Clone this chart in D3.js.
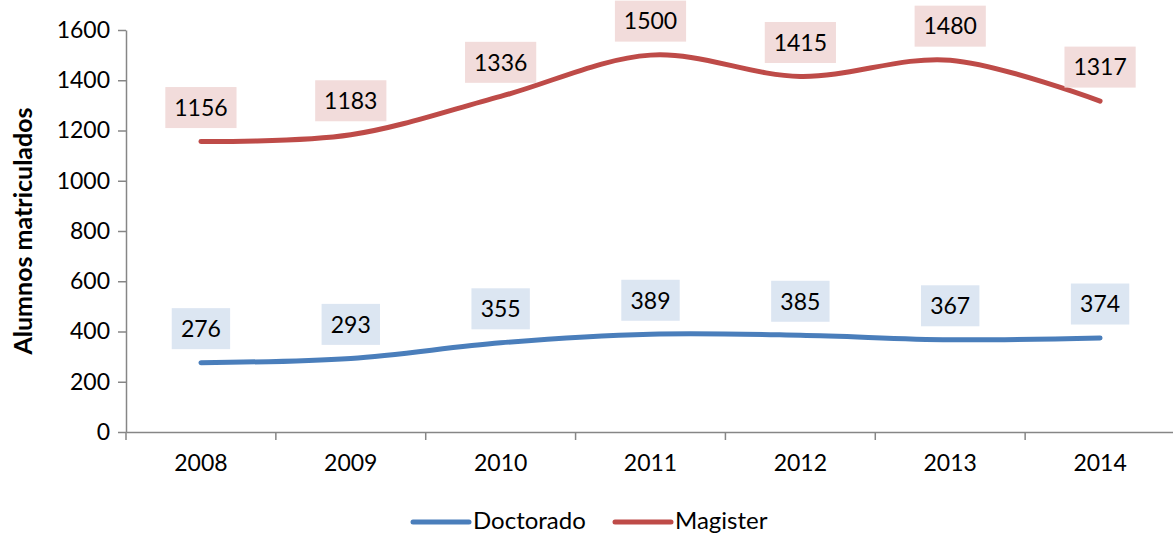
<!DOCTYPE html>
<html><head><meta charset="utf-8">
<script src="https://cdn.jsdelivr.net/npm/d3@7"></script>
<style>
html,body{margin:0;padding:0;background:#fff;}
svg{display:block;font-family:Lato,"Open Sans",sans-serif;}
</style></head>
<body>
<svg id="chart" width="1173" height="533"></svg>
<script>
const years = ["2008","2009","2010","2011","2012","2013","2014"];
const doctorado = [276, 293, 355, 389, 385, 367, 374];
const magister = [1156, 1183, 1336, 1500, 1415, 1480, 1317];
const yTicks = [0, 200, 400, 600, 800, 1000, 1200, 1400, 1600];
const seriesNames = ["Doctorado", "Magister"];

const svg = d3.select("#chart");
const mLeft = 126, mRight = 1175, mTop = 30, mBottom = 432;
const x = d3.scaleBand().domain(years).range([mLeft, mRight]);
const y = d3.scaleLinear().domain([0, 1600]).range([mBottom, mTop]);
const axisColor = "#868686";
const fs = 23;

const series = [
  {name: seriesNames[0], values: doctorado, color: "#4A7EBB", box: "#DCE6F2"},
  {name: seriesNames[1], values: magister, color: "#BE4B48", box: "#F2DCDB"}
];

// Y axis
const yAxis = svg.append("g").attr("transform", `translate(${mLeft},0)`)
  .call(d3.axisLeft(y).tickValues(yTicks).tickFormat(d3.format("d"))
    .tickSize(8).tickPadding(8).tickSizeOuter(0));
yAxis.select(".domain").attr("stroke", axisColor).attr("stroke-width", 1.5);
yAxis.selectAll(".tick line").attr("stroke", axisColor).attr("stroke-width", 1.5);
yAxis.selectAll(".tick text").attr("font-size", fs).attr("fill", "#000").attr("font-family", "Lato");

// X axis
const xAxis = svg.append("g").attr("transform", `translate(0,${mBottom})`)
  .call(d3.axisBottom(x).tickSize(0).tickPadding(23).tickSizeOuter(0));
xAxis.select(".domain").attr("stroke", axisColor).attr("stroke-width", 1.5);
xAxis.selectAll(".tick text").attr("font-size", fs).attr("fill", "#000").attr("font-family", "Lato");
// boundary tick marks between categories
const bounds = years.map(d => x(d));
svg.append("g").selectAll("line").data(bounds).join("line")
  .attr("x1", d => d).attr("x2", d => d)
  .attr("y1", mBottom).attr("y2", mBottom + 8)
  .attr("stroke", axisColor).attr("stroke-width", 1.5);

// Axis title
svg.append("text")
  .attr("transform", `translate(32,${231}) rotate(-90)`)
  .attr("text-anchor", "middle")
  .attr("font-size", 25).attr("font-weight", "bold").attr("fill", "#000")
  .text("Alumnos matriculados");

// Lines
const cx = d => x(d) + x.bandwidth() / 2;
const line = d3.line().curve(d3.curveCatmullRom.alpha(0))
  .x((d, i) => cx(years[i])).y(d => y(d));

series.forEach(s => {
  svg.append("path").datum(s.values)
    .attr("d", line).attr("fill", "none")
    .attr("stroke", s.color).attr("stroke-width", 5).attr("stroke-linecap", "round");
});

// Data labels
series.forEach(s => {
  const g = svg.append("g");
  s.values.forEach((v, i) => {
    const px = cx(years[i]), py = y(v) - 34;
    const t = String(v);
    const w = t.length * 12.8 + 20;
    g.append("rect").attr("x", px - w / 2).attr("y", py - 20.5)
      .attr("width", w).attr("height", 41).attr("fill", s.box);
    g.append("text").attr("x", px).attr("y", py).attr("dy", "0.36em")
      .attr("text-anchor", "middle").attr("font-size", fs).attr("fill", "#000")
      .text(t);
  });
});

// Legend
const legendX = [413, 615];
series.forEach((s, i) => {
  const lx = legendX[i], ly = 522;
  svg.append("line").attr("x1", lx).attr("x2", lx + 56).attr("y1", ly).attr("y2", ly)
    .attr("stroke", s.color).attr("stroke-width", 5).attr("stroke-linecap", "round");
  svg.append("text").attr("x", lx + 60).attr("y", 529)
    .attr("font-size", 24).attr("fill", "#000").text(s.name);
});
</script>
</body></html>
